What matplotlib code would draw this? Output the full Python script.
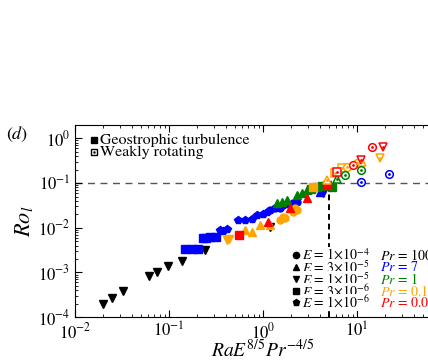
import matplotlib
matplotlib.use("Agg")
import matplotlib.pyplot as plt

plt.rcParams['font.family'] = 'STIXGeneral'
plt.rcParams['mathtext.fontset'] = 'stix'

# ==============================
# DATA  (x = Ra E^{8/5} Pr^{-4/5}, y = Ro_l)
# ==============================
# Pr = 100 (black), geostrophic
pr100_x = [0.0199, 0.0248, 0.0324, 0.0612, 0.0745, 0.0975, 0.137, 0.241, 1.19]
pr100_y = [1.95e-4, 2.66e-4, 3.82e-4, 8.3e-4, 1.02e-3, 1.38e-3, 1.79e-3, 3.15e-3, 1.03e-2]
pr100_m = ['v'] * 9

# Pr = 7 (blue), geostrophic
pr7_x = [0.148, 0.176, 0.204, 0.23, 0.25, 0.273, 0.316,
         0.349, 0.38, 0.414, 0.542, 0.644, 0.764, 0.864, 1.0, 1.10,
         1.19, 1.34, 1.52, 1.63, 1.94, 2.08, 2.30, 4.04, 4.35]
pr7_y = [0.0033, 0.0033, 0.0033, 0.0058, 0.0060, 0.0062, 0.0062,
         0.0088, 0.0085, 0.0093, 0.0148, 0.0150, 0.0155, 0.0191, 0.020, 0.0223,
         0.0250, 0.0274, 0.028, 0.0320, 0.0320, 0.0355, 0.0374, 0.0625, 0.0594]
pr7_m = ['s'] * 7 + ['p'] * 9 + ['o'] * 7 + ['^', 'v']

# Pr = 1 (green), geostrophic
pr1_x = [1.41, 1.6, 1.80, 2.30, 2.6, 2.94, 3.75, 4.57, 3.2, 4.2, 5.42]
pr1_y = [0.0355, 0.038, 0.0414, 0.0536, 0.06, 0.0693, 0.0809, 0.0897, 0.075, 0.085, 0.0809]
pr1_m = ['^'] * 8 + ['s'] * 3

# Pr = 0.1 (orange), geostrophic
pr01_x = [0.41, 0.435, 0.644, 0.764, 0.929, 1.2, 1.52, 1.63, 1.71, 2.08, 2.2, 2.3, 3.40]
pr01_y = [0.0053, 0.0056, 0.0088, 0.0080, 0.0114, 0.0115, 0.0148, 0.017, 0.0164, 0.0223,
          0.0274, 0.0245, 0.0809]
pr01_m = ['v', 'v', '^', '^', '^', '^', 'o', 'o', 'o', 'o', 'o', 'o', 's']

# Pr = 0.025 (red), geostrophic
pr0025_x = [0.556, 1.13, 1.94, 2.94, 4.8]
pr0025_y = [0.0068, 0.0133, 0.0274, 0.0459, 0.09]
pr0025_m = ['s', '^', '^', '^', 's']

# weakly rotating (open symbols)
wr01_x = [4.80, 5.83, 6.92, 7.83, 10.0, 11.3, 17.6]
wr01_y = [0.116, 0.167, 0.215, 0.227, 0.279, 0.30, 0.360]
wr01_m = ['^', 's', 's', 'o', 'o', '^', 'v']

wr1_x = [6.13, 7.45, 11.0]
wr1_y = [0.122, 0.150, 0.194]
wr1_m = ['^', 'o', 'o']

wr0025_x = [6.13, 9.06, 11.0, 14.4, 18.9]
wr0025_y = [0.175, 0.251, 0.33, 0.635, 0.635]
wr0025_m = ['s', 'o', 'v', 'o', 'v']

wr7_x = [11.0, 21.9]
wr7_y = [0.105, 0.158]
wr7_m = ['o', 'o']

E_labels = [r'$E$ = 1$\times$10$^{-4}$', r'$E$ = 3$\times$10$^{-5}$',
            r'$E$ = 1$\times$10$^{-5}$', r'$E$ = 3$\times$10$^{-6}$',
            r'$E$ = 1$\times$10$^{-6}$']
E_markers = ['o', '^', 'v', 's', 'p']
Pr_labels = [r'$Pr$ = 100', r'$Pr$ = 7', r'$Pr$ = 1', r'$Pr$ = 0.1', r'$Pr$ = 0.025']
Pr_colors = ['black', 'blue', 'green', 'orange', 'red']

# ==============================
# CHART
# ==============================
fig = plt.figure(figsize=(4.28, 3.6), dpi=100)
ax = fig.add_axes([0.175, 0.119, 0.879, 0.534])
ax.set_xscale('log')
ax.set_yscale('log')

ax.axhline(0.1, color='#555555', ls=(0, (5, 4)), lw=1.0, zorder=1)
ax.plot([5, 5], [1e-4, 0.1], color='black', ls=(0, (3, 2)), lw=1.4, zorder=1)

filled = [(pr100_x, pr100_y, pr100_m, 'black'),
          (pr7_x, pr7_y, pr7_m, 'blue'),
          (pr1_x, pr1_y, pr1_m, 'green'),
          (pr01_x, pr01_y, pr01_m, 'orange'),
          (pr0025_x, pr0025_y, pr0025_m, 'red')]
for xs, ys, ms, c in filled:
    for x, y, m in zip(xs, ys, ms):
        ax.plot(x, y, marker=m, color=c, ms=5.5 if m != 'o' else 5, ls='none', zorder=3)

hollow = [(wr01_x, wr01_y, wr01_m, 'orange'),
          (wr1_x, wr1_y, wr1_m, 'green'),
          (wr0025_x, wr0025_y, wr0025_m, 'red'),
          (wr7_x, wr7_y, wr7_m, 'blue')]
for xs, ys, ms, c in hollow:
    for x, y, m in zip(xs, ys, ms):
        ax.plot(x, y, marker=m, mfc='white', mec=c, mew=1.1, ms=5.5, ls='none', zorder=3)
        ax.plot(x, y, marker='.', color=c, ms=2, ls='none', zorder=4)

ax.set_xlim(1e-2, 1e2)
ax.set_ylim(1e-4, 2)
ax.tick_params(which='both', direction='in', top=True, right=True, labelsize=12)
ax.tick_params(which='major', length=5)
ax.tick_params(which='minor', length=2.5)

ax.set_xlabel(r'$RaE^{8/5}Pr^{-4/5}$', fontsize=14, labelpad=-2)
ax.set_ylabel(r'$Ro_l$', fontsize=16, labelpad=2)
fig.text(0.015, 0.615, r'($d$)', fontsize=13)

# regime legend
ax.plot(0.05, 0.922, marker='s', color='black', ms=4.5, transform=ax.transAxes)
ax.text(0.066, 0.922, 'Geostrophic turbulence', fontsize=11.5, transform=ax.transAxes, va='center')
ax.plot(0.05, 0.859, marker='s', mfc='white', mec='black', ms=4.5, transform=ax.transAxes)
ax.plot(0.05, 0.859, marker='.', color='black', ms=1.5, transform=ax.transAxes)
ax.text(0.066, 0.859, 'Weakly rotating', fontsize=11.5, transform=ax.transAxes, va='center')

# E / Pr legend
row_y = [0.323, 0.260, 0.198, 0.135, 0.078]
for yy, m, lab, plab, c in zip(row_y, E_markers, E_labels, Pr_labels, Pr_colors):
    ax.plot(0.588, yy, marker=m, color='black', ms=4.5, transform=ax.transAxes, zorder=5)
    ax.text(0.603, yy, lab, fontsize=10, transform=ax.transAxes, va='center', zorder=5,
            bbox=dict(facecolor='white', edgecolor='none', pad=0.3))
    ax.text(0.811, yy, plab, color=c, fontsize=10, transform=ax.transAxes, va='center')

fig.savefig('out.png', dpi=100)
